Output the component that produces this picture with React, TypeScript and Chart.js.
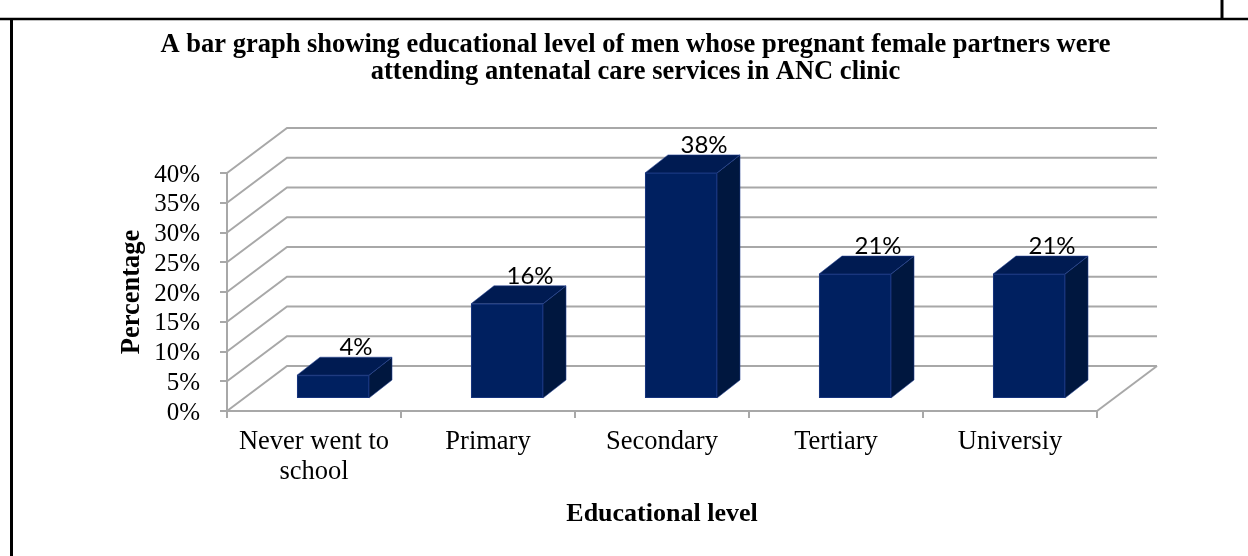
import React, { useEffect, useRef } from 'react';
import { Chart, registerables } from 'chart.js';

Chart.register(...registerables);

// ---- data ----
const categories: (string | string[])[] = [['Never went to', 'school'], 'Primary', 'Secondary', 'Tertiary', 'Universiy'];
const percentages: number[] = [4, 16, 38, 21, 21];
const yMin = 0;
const yMax = 40;
const yStep = 5;
const titleLines: string[] = [
  'A bar graph showing educational level of men whose pregnant female partners were',
  'attending antenatal care services in ANC clinic',
];
const xTitle = 'Educational level';
const yTitle = 'Percentage';

// ---- styles ----
const SERIF = "'Liberation Serif', 'Times New Roman', serif";
const LABEL_FONT = "'Lato', 'Liberation Sans', sans-serif";
const GRID = '#a8a8a8';
const FRONT = '#002060';
const TOP = '#001b52';
const SIDE = '#00173f';
const WALL_DEPTH = { dx: 60, dy: -45 };
const BAR_FRONT = { dx: 19, dy: -12 };
const BAR_DEPTH = { dx: 23, dy: -18 };

const threeD = {
  id: 'threeD',
  afterLayout(chart: any) {
    const tb = chart.titleBlock;
    if (tb) {
      tb.left += 29.5;
      tb.right += 29.5;
    }
  },
  beforeDraw(chart: any) {
    const ctx = chart.ctx as CanvasRenderingContext2D;
    ctx.save();
    ctx.strokeStyle = '#000';
    ctx.lineWidth = 2.5;
    ctx.beginPath();
    ctx.moveTo(0, 19);
    ctx.lineTo(chart.width, 19);
    ctx.stroke();
    ctx.lineWidth = 3;
    ctx.beginPath();
    ctx.moveTo(11.5, 19);
    ctx.lineTo(11.5, chart.height);
    ctx.stroke();
    ctx.beginPath();
    ctx.moveTo(1222, 0);
    ctx.lineTo(1222, 18);
    ctx.stroke();
    ctx.restore();
  },
  beforeDatasetsDraw(chart: any) {
    const ctx = chart.ctx as CanvasRenderingContext2D;
    const a = chart.chartArea;
    const y = chart.scales.y;
    ctx.save();
    ctx.strokeStyle = GRID;
    ctx.lineWidth = 2;
    ctx.lineJoin = 'miter';
    y.ticks.forEach((t: any) => {
      const py = y.getPixelForValue(t.value);
      ctx.beginPath();
      ctx.moveTo(a.left, py);
      ctx.lineTo(a.left + WALL_DEPTH.dx, py + WALL_DEPTH.dy);
      ctx.lineTo(a.right + WALL_DEPTH.dx, py + WALL_DEPTH.dy);
      ctx.stroke();
    });
    const p0 = y.getPixelForValue(yMin);
    ctx.beginPath();
    ctx.moveTo(a.right, p0);
    ctx.lineTo(a.right + WALL_DEPTH.dx, p0 + WALL_DEPTH.dy);
    ctx.stroke();
    ctx.restore();
  },
  afterDatasetsDraw(chart: any) {
    const ctx = chart.ctx as CanvasRenderingContext2D;
    const meta = chart.getDatasetMeta(0);
    const values = chart.data.datasets[0].data as number[];
    ctx.save();
    meta.data.forEach((bar: any, i: number) => {
      const w = bar.width;
      const x0 = bar.x - w / 2 + BAR_FRONT.dx;
      const x1 = x0 + w;
      const yt = bar.y + BAR_FRONT.dy;
      const yb = bar.base + BAR_FRONT.dy;
      const dx = BAR_DEPTH.dx;
      const dy = BAR_DEPTH.dy;
      ctx.strokeStyle = 'rgba(40,70,150,0.55)';
      ctx.lineWidth = 1;
      // side
      ctx.fillStyle = SIDE;
      ctx.beginPath();
      ctx.moveTo(x1, yt);
      ctx.lineTo(x1 + dx, yt + dy);
      ctx.lineTo(x1 + dx, yb + dy);
      ctx.lineTo(x1, yb);
      ctx.closePath();
      ctx.fill();
      ctx.stroke();
      // top
      ctx.fillStyle = TOP;
      ctx.beginPath();
      ctx.moveTo(x0, yt);
      ctx.lineTo(x1, yt);
      ctx.lineTo(x1 + dx, yt + dy);
      ctx.lineTo(x0 + dx, yt + dy);
      ctx.closePath();
      ctx.fill();
      ctx.stroke();
      // front
      ctx.fillStyle = FRONT;
      ctx.fillRect(x0, yt, w, yb - yt);
      ctx.strokeRect(x0 + 0.5, yt + 0.5, w - 1, yb - yt - 1);
      // label
      ctx.fillStyle = '#000';
      ctx.font = `24px ${LABEL_FONT}`;
      ctx.textAlign = 'center';
      ctx.textBaseline = 'alphabetic';
      ctx.fillText(`${values[i]}%`, bar.x + BAR_FRONT.dx + dx, bar.y - 32);
    });
    ctx.restore();
  },
};

export default function App() {
  const ref = useRef<HTMLCanvasElement | null>(null);
  useEffect(() => {
    if (!ref.current) return;
    const chart = new Chart(ref.current, {
      type: 'bar',
      data: {
        labels: categories,
        datasets: [
          {
            label: 'Percentage',
            data: percentages,
            backgroundColor: 'rgba(0,0,0,0)',
            borderWidth: 0,
            barPercentage: 0.414,
            categoryPercentage: 1,
          },
        ],
      },
      options: {
        responsive: false,
        animation: false,
        devicePixelRatio: 1,
        layout: { padding: { left: 115, right: 151, top: 0, bottom: 15 } },
        plugins: {
          legend: { display: false },
          tooltip: { enabled: false },
          title: {
            display: true,
            text: titleLines,
            color: '#000',
            font: { family: SERIF, size: 26.5, weight: 'bold', lineHeight: 27 / 26.5 },
            padding: { top: 31.5, bottom: 87.5 },
          },
        },
        scales: {
          x: {
            grid: { display: true, drawOnChartArea: false, tickLength: 7, color: GRID, lineWidth: 2, offset: true },
            border: { display: true, color: GRID, width: 2 },
            ticks: {
              color: '#000',
              font: { family: SERIF, size: 26.5, lineHeight: 30 / 26.5 },
              padding: 9,
              maxRotation: 0,
              autoSkip: false,
            },
            title: {
              display: true,
              text: xTitle,
              color: '#000',
              font: { family: SERIF, size: 26, weight: 'bold', lineHeight: 1 },
              padding: { top: 0, bottom: 14 },
            },
            afterFit: (s: any) => {
              s.height = 130;
            },
          },
          y: {
            min: yMin,
            max: yMax,
            ticks: {
              stepSize: yStep,
              autoSkip: false,
              maxTicksLimit: 20,
              callback: (v: any) => `${v}%`,
              color: '#000',
              font: { family: SERIF, size: 25 },
              padding: 20,
              labelOffset: 2,
            },
            grid: { drawOnChartArea: false, tickLength: 7, color: GRID, lineWidth: 2 },
            border: { display: true, color: GRID, width: 2 },
            title: {
              display: true,
              text: yTitle,
              color: '#000',
              font: { family: SERIF, size: 26.5, weight: 'bold', lineHeight: 1.2 },
              padding: { top: 1, bottom: 7 },
            },
            afterFit: (s: any) => {
              s.width = 112;
            },
          },
        },
      },
      plugins: [threeD],
    } as any);
    return () => chart.destroy();
  }, []);
  return (
    <div style={{ position: 'absolute', left: 0, top: 0, width: 1248, height: 556, background: '#fff' }}>
      <canvas ref={ref} width={1248} height={556} style={{ display: 'block' }} />
    </div>
  );
}
